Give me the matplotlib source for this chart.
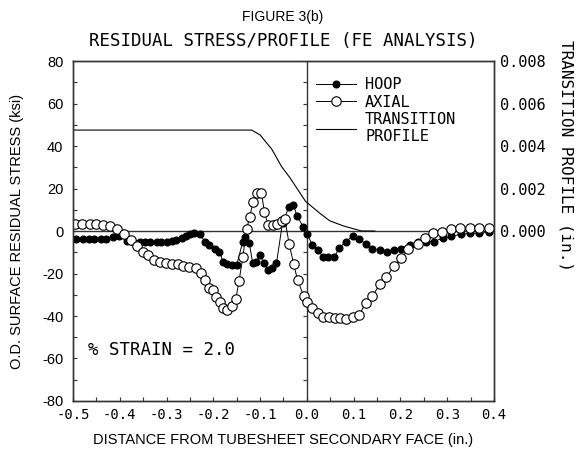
import matplotlib
matplotlib.use("Agg")
import matplotlib.pyplot as plt
from matplotlib.lines import TICKLEFT
import numpy as np

# hoop stress along the tube (ksi)
hoop_x = [-0.493, -0.479, -0.466, -0.454, -0.441, -0.429, -0.415, -0.402, -0.385, -0.371,
          -0.357, -0.346, -0.336, -0.321, -0.311, -0.300, -0.289, -0.279, -0.268, -0.259,
          -0.250, -0.241, -0.229, -0.218, -0.209, -0.197, -0.187, -0.179, -0.170, -0.160,
          -0.150, -0.137, -0.133, -0.123, -0.116, -0.108, -0.100, -0.092, -0.083, -0.075,
          -0.065, -0.052, -0.038, -0.029, -0.021, -0.008, 0.001, 0.012, 0.024, 0.035,
          0.046, 0.058, 0.069, 0.083, 0.098, 0.112, 0.126, 0.140, 0.156, 0.172,
          0.186, 0.202, 0.220, 0.238, 0.254, 0.271, 0.290, 0.309, 0.329, 0.348,
          0.368, 0.390]
hoop_y = [-3.8, -3.8, -3.8, -3.8, -3.8, -3.6, -2.7, -2.2, -4.5, -5.0,
          -5.0, -5.0, -5.0, -5.0, -5.0, -5.0, -4.5, -4.2, -3.1, -2.2,
          -1.6, -1.1, -1.4, -5.0, -6.6, -8.6, -9.7, -14.4, -15.5, -16.0,
          -16.0, -5.0, -2.7, -5.8, -14.9, -14.4, -11.3, -15.2, -18.4, -17.6,
          -15.2, 4.0, 11.4, 12.2, 7.2, 2.0, -1.6, -6.6, -8.9, -12.4,
          -12.4, -12.4, -8.2, -5.0, -2.4, -3.9, -6.1, -8.6, -8.9, -10.0,
          -8.9, -8.6, -6.6, -5.0, -5.0, -5.0, -3.4, -2.4, -1.6, -1.1,
          -1.1, -0.6]

# axial stress along the tube (ksi)
axial_x = [-0.495, -0.480, -0.464, -0.450, -0.436, -0.421, -0.406, -0.391, -0.377, -0.364,
           -0.351, -0.339, -0.326, -0.314, -0.301, -0.289, -0.275, -0.264, -0.252, -0.238,
           -0.226, -0.217, -0.209, -0.200, -0.194, -0.186, -0.179, -0.170, -0.160, -0.152,
           -0.145, -0.137, -0.129, -0.122, -0.115, -0.107, -0.097, -0.091, -0.083, -0.073,
           -0.063, -0.054, -0.047, -0.038, -0.028, -0.020, -0.007, 0.001, 0.010, 0.023,
           0.035, 0.048, 0.060, 0.071, 0.083, 0.098, 0.112, 0.126, 0.140, 0.156,
           0.170, 0.187, 0.202, 0.217, 0.237, 0.252, 0.270, 0.289, 0.309, 0.327,
           0.348, 0.368, 0.390]
axial_y = [3.3, 3.3, 3.3, 3.3, 3.0, 2.2, 1.0, -1.5, -4.2, -6.9,
           -9.7, -11.3, -13.6, -14.4, -15.2, -15.7, -15.5, -16.3, -16.8, -17.6,
           -19.9, -23.0, -27.0, -27.8, -30.9, -33.3, -36.4, -37.2, -35.3, -32.1,
           -23.5, -12.4, 0.8, 6.7, 13.8, 18.0, 18.0, 9.1, 3.0, 3.0,
           3.5, 4.8, 5.5, -6.0, -15.7, -23.0, -30.5, -33.5, -36.4, -38.7,
           -40.3, -40.6, -41.1, -41.1, -41.4, -40.6, -39.5, -33.7, -30.6, -25.1,
           -21.5, -16.5, -12.8, -8.6, -6.3, -3.4, -1.1, -0.3, 0.8, 1.3,
           1.3, 1.3, 1.3]

# transition profile (in.)
prof_x = [-0.5, -0.15, -0.118, -0.100, -0.075, -0.054, -0.036, -0.003, 0.028, 0.049, 0.078, 0.117, 0.145]
prof_y = [0.00475, 0.00475, 0.00475, 0.00452, 0.00385, 0.00303, 0.00250, 0.00140, 0.00083,
          0.00048, 0.00024, 0.0, 0.0]

stress_ticks = list(range(-80, 81, 20))
dist_ticks = [-0.5, -0.4, -0.3, -0.2, -0.1, 0.0, 0.1, 0.2, 0.3, 0.4]
prof_ticks = [0.0, 0.002, 0.004, 0.006, 0.008]

mono = "DejaVu Sans Mono"
sans = "Liberation Sans"

fig = plt.figure(figsize=(5.76, 4.5), dpi=100)
ax = fig.add_axes([0.1267, 0.1089, 0.7309, 0.7555])
ax2 = ax.twinx()

ax.axhline(0, color="#333333", lw=1.0, zorder=1)
ax.axvline(0, color="#333333", lw=1.0, zorder=1)
# small tick marks along the x = 0 line
ax.plot(np.zeros(17), np.arange(-80, 81, 10), ls="none", marker=TICKLEFT,
        ms=3, mew=0.8, color="#333333", zorder=1)

h_hoop, = ax.plot(hoop_x, hoop_y, "-", color="black", lw=0.7, marker="o",
                  ms=4.8, mfc="black", mec="black", zorder=3)
h_axial, = ax.plot(axial_x, axial_y, "-", color="black", lw=0.7, marker="o",
                   ms=6.8, mfc="white", mec="black", mew=0.8, zorder=4)
h_prof, = ax2.plot(prof_x, prof_y, "-", color="black", lw=0.8)

ax.set_xlim(-0.5, 0.4)
ax.set_ylim(-80, 80)
ax2.set_ylim(-0.008, 0.008)

ax.set_xticks(dist_ticks)
ax.set_xticklabels(["%.1f" % v for v in dist_ticks], family=mono, fontsize=10)
ax.set_xticks(np.arange(-0.45, 0.4, 0.1), minor=True)
ax.set_yticks(stress_ticks)
ax.set_yticklabels([str(v) for v in stress_ticks], family=sans, fontsize=10.5)
ax.set_yticks(range(-70, 80, 20), minor=True)
ax.tick_params(which="both", direction="in", length=3, width=0.8, color="#333333")
ax.tick_params(axis="x", pad=5)
ax.tick_params(axis="y", pad=7)
ax.tick_params(top=False, right=False)

ax2.set_yticks(prof_ticks)
ax2.set_yticklabels(["%.3f" % v for v in prof_ticks], family=mono, fontsize=11)
ax2.tick_params(direction="in", length=0, pad=4)

for a in (ax, ax2):
    for s in a.spines.values():
        s.set_color("#333333")
        s.set_linewidth(1.0)

ax.set_xlabel("DISTANCE FROM TUBESHEET SECONDARY FACE (in.)", family=sans, fontsize=10.5, labelpad=8)
ax.set_ylabel("O.D. SURFACE RESIDUAL STRESS (ksi)", family=sans, fontsize=10.5, labelpad=13)
fig.text(0.982, 0.91, "TRANSITION PROFILE (in.)", family=mono, fontsize=11.5,
         rotation=-90, ha="center", va="top")

fig.text(0.49, 0.962, "FIGURE 3(b)", family=sans, fontsize=10, ha="center", va="center")
fig.text(0.492, 0.908, "RESIDUAL STRESS/PROFILE (FE ANALYSIS)", family=mono, fontsize=12.5,
         ha="center", va="center")

ax.text(-0.468, -56, "% STRAIN = 2.0", family=mono, fontsize=12.5, va="center", ha="left")

leg = ax.legend([h_hoop, h_axial, h_prof], ["HOOP", "AXIAL", "TRANSITION\nPROFILE"],
                loc="upper left", bbox_to_anchor=(0.563, 0.97), frameon=False,
                prop={"family": mono, "size": 11}, handlelength=2.6, handletextpad=0.6,
                labelspacing=0.15, borderaxespad=0)
leg.set_zorder(5)

fig.savefig("out.png", dpi=100)
